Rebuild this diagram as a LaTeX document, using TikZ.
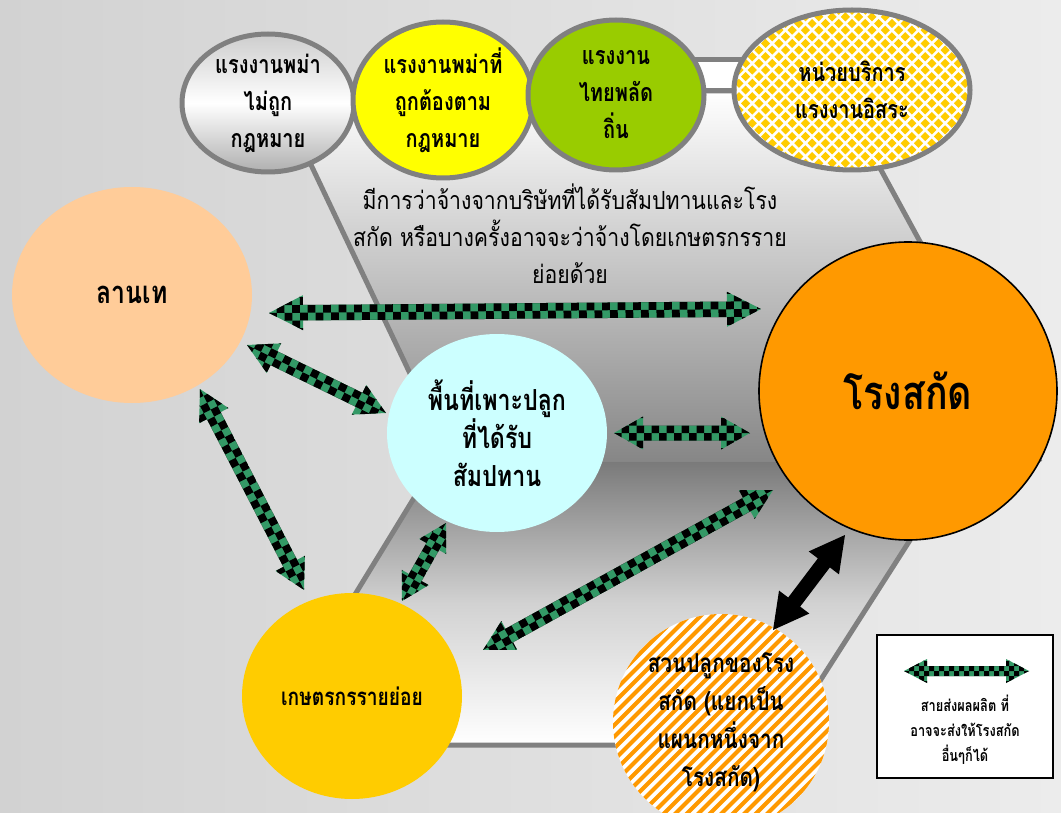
\documentclass[tikz,border=0pt]{standalone}
\usepackage{fontspec}
\usetikzlibrary{shapes.geometric}
\newfontfamily\fTh[Script=Thai,FakeStretch=0.85]{Loma}
\newfontfamily\fThB[Script=Thai,FakeStretch=0.8]{Loma}
\definecolor{bgL}{RGB}{210,210,210}
\definecolor{bgR}{RGB}{236,236,236}
\definecolor{outl}{RGB}{128,128,128}
\definecolor{upbot}{RGB}{134,134,134}
\definecolor{lowtop}{RGB}{122,122,122}
\definecolor{lowmid}{RGB}{210,210,210}
\definecolor{silvA}{RGB}{205,205,205}
\definecolor{silvB}{RGB}{175,175,175}
\definecolor{ylw}{RGB}{255,255,0}
\definecolor{grn}{RGB}{153,204,0}
\definecolor{dyel}{RGB}{255,204,0}
\definecolor{peach}{RGB}{255,204,153}
\definecolor{cyanL}{RGB}{204,255,255}
\definecolor{orng}{RGB}{255,153,0}
\definecolor{frm}{RGB}{255,204,0}
\definecolor{chkg}{RGB}{51,153,102}

\tikzset{
  every node/.style={inner sep=0pt,outer sep=0pt},
  edgeline/.style={draw=outl,line width=5pt,line join=round},
  topell/.style={ellipse,draw=outl,line width=5pt,inner sep=-40pt,align=center,
     font=\fThB\bfseries\fontsize{25}{37}\selectfont},
  blob/.style={ellipse,inner sep=-40pt,align=center},
}

\newcommand\arrpoly[3]{(0,0) -- (#3,#2) -- (#3,#1) -- ({\arrL-#3},#1) -- ({\arrL-#3},#2) -- (\arrL,0) -- ({\arrL-#3},-#2) -- ({\arrL-#3},-#1) -- (#3,-#1) -- (#3,-#2) -- cycle}
\newcommand\getarr[2]{%
  \pgfpointdiff{\pgfpointanchor{#1}{center}}{\pgfpointanchor{#2}{center}}%
  \pgfgetlastxy\arrdx\arrdy
  \pgfmathsetmacro\arrL{veclen(\arrdx,\arrdy)}%
  \pgfmathsetmacro\arrA{atan2(\arrdy,\arrdx)}%
}
% checkered double block arrow: from, to, shaft half width (= square size), head half width, head length
\newcommand\chkarrow[5]{%
  \getarr{#1}{#2}%
  \begin{scope}[shift={(#1)},rotate=\arrA]
    \begin{scope}
      \clip \arrpoly{#3}{#4}{#5};
      \fill[chkg] (-1,{-#4-1}) rectangle ({\arrL+1},{#4+1});
      \pgfmathtruncatemacro\arrN{\arrL/#3}%
      \foreach \i in {0,...,\arrN}{%
        \pgfmathtruncatemacro\arrO{mod(\i,2)}%
        \fill[black] \foreach \j in {-4,-2,0,2}{ ({\i*#3},{(\j+\arrO)*#3}) rectangle ++(#3,#3) };
      }
    \end{scope}
  \end{scope}}
\newcommand\solidarrow[5]{%
  \getarr{#1}{#2}%
  \begin{scope}[shift={(#1)},rotate=\arrA]
    \fill[black] \arrpoly{#3}{#4}{#5};
  \end{scope}}

\begin{document}
\begin{tikzpicture}[x=1pt,y=-1pt]
\useasboundingbox (0,0) rectangle (1061,813);
\shade[left color=bgL,right color=bgR] (0,0) rectangle (1061,813);

% chevron-shaped background panel
\draw[edgeline,fill=white] (690,60) rectangle (750,91);
\shade[top color=white,bottom color=upbot] (276,91) -- (838,91) -- (1040,462) -- (452,462) -- cycle;
\shade[top color=lowtop,bottom color=white,middle color=lowmid] (436,462) -- (960,462) -- (779,745) -- (263,745) -- cycle;
\draw[edgeline] (452,462) -- (276,91) -- (838,91) -- (1040,462);
\draw[edgeline] (436,462) -- (263,745) -- (779,745) -- (960,462);

\node[font=\fTh\fontsize{25}{37}\selectfont,align=center] (desc) at (570,234)
  {มีการว่าจ้างจากบริษัทที่ได้รับสัมปทานและโรง\\สกัด หรือบางครั้งอาจจะว่าจ้างโดยเกษตรกรราย\\ย่อยด้วย};

% labour ellipses
\node[topell,top color=silvA,bottom color=silvB,middle color=white,minimum width=172,minimum height=138] (w1) at (268,103)
  {แรงงานพม่า\\ไม่ถูก\\กฎหมาย};
\node[topell,fill=ylw,minimum width=180,minimum height=156] (w2) at (443,100)
  {แรงงานพม่าที่\\ถูกต้องตาม\\กฎหมาย};
\node[topell,fill=grn,minimum width=176,minimum height=150] (w3) at (616,95)
  {แรงงาน\\ไทยพลัด\\ถิ่น};
% diamond-pattern fill of the fourth ellipse
\begin{scope}
  \clip (852,90) ellipse [x radius=118, y radius=80];
  \fill[white] (730,5) rectangle (975,175);
  \foreach \rw in {-13,...,13}{%
    \pgfmathsetmacro\dmy{90+\rw*6.65}%
    \pgfmathsetmacro\dmo{852+mod(\rw+26,2)*6.65}%
    \fill[dyel] \foreach \cl in {-10,...,10}{ ({\dmo+\cl*13.3-4.6},\dmy) -- ++(4.6,-4.6) -- ++(4.6,4.6) -- ++(-4.6,4.6) -- cycle };
  }
\end{scope}
\node[topell,minimum width=236,minimum height=160] (w4) at (852,90)
  {หน่วยบริการ\\แรงงานอิสระ};

% main nodes
\node[blob,fill=peach,minimum width=240,minimum height=216,font=\fThB\bfseries\fontsize{31}{38}\selectfont] (lan) at (132,295) {ลานเท};
\node[blob,fill=cyanL,minimum width=220,minimum height=198,font=\fThB\bfseries\fontsize{29}{38}\selectfont] (area) at (497,433)
  {พื้นที่เพาะปลูก\\ที่ได้รับ\\สัมปทาน};
\node[circle,draw=black,line width=1.6pt,fill=orng,minimum size=298,inner sep=-40pt,font=\fThB\bfseries\fontsize{47}{50}\selectfont] (mill) at (908,391) {โรงสกัด};
\node[blob,fill=frm,minimum width=220,minimum height=206,font=\fThB\bfseries\fontsize{24}{38}\selectfont] (farmer) at (352,696) {เกษตรกรรายย่อย};
\node[circle,fill=white,minimum size=216,inner sep=-40pt,align=center,font=\fThB\bfseries\fontsize{26}{38}\selectfont,
  path picture={
    \foreach \k in {-16,...,16}
      \draw[orng,line width=4pt] ([shift={({\k*11.5-140},140)}]path picture bounding box.center) -- ++(280,-280);
  }] (plant) at (721,722)
  {สวนปลูกของโรง\\สกัด (แยกเป็น\\แผนกหนึ่งจาก\\โรงสกัด)};

% arrow end points
\coordinate (a1s) at (269,313); \coordinate (a1e) at (761,309);
\coordinate (a2s) at (247,345); \coordinate (a2e) at (386,413);
\coordinate (a3s) at (614,433); \coordinate (a3e) at (750,433);
\coordinate (a4s) at (200,389); \coordinate (a4e) at (304,590);
\coordinate (a5s) at (446,523); \coordinate (a5e) at (402,601);
\coordinate (a6s) at (773,490); \coordinate (a6e) at (483,650);
\coordinate (b1s) at (845,535); \coordinate (b1e) at (773,630);

\chkarrow{a1s}{a1e}{7.75}{17.5}{34}
\chkarrow{a2s}{a2e}{7.75}{16.5}{30}
\chkarrow{a3s}{a3e}{7.5}{16.5}{29}
\chkarrow{a4s}{a4e}{7.75}{16.5}{30}
\chkarrow{a5s}{a5e}{7.25}{15.5}{27}
\chkarrow{a6s}{a6e}{7.75}{16.5}{30}
\solidarrow{b1s}{b1e}{7.5}{19}{35}

% legend
\node[draw=black,line width=2pt,fill=white,minimum width=176,minimum height=143] (legend) at (965,706) {};
\coordinate (lg1) at (904,671); \coordinate (lg2) at (1029,671);
\chkarrow{lg1}{lg2}{5}{12}{23}
\node[align=center,font=\fThB\bfseries\fontsize{16}{25}\selectfont] (legtxt) at (965,730)
  {สายส่งผลผลิต ที่\\อาจจะส่งให้โรงสกัด\\อื่นๆก็ได้};
\end{tikzpicture}
\end{document}
